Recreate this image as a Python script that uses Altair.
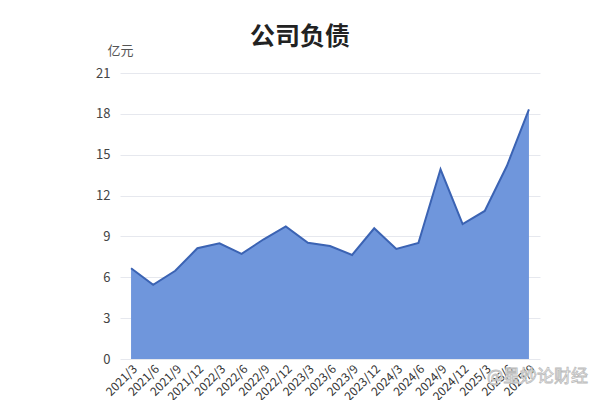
"""Company liabilities (公司负债) by quarter, drawn as a filled area chart with Altair."""

import altair as alt
import pandas as pd

FONT = "Noto Sans CJK SC"

QUARTERS = [
    "2021/3", "2021/6", "2021/9", "2021/12",
    "2022/3", "2022/6", "2022/9", "2022/12",
    "2023/3", "2023/6", "2023/9", "2023/12",
    "2024/3", "2024/6", "2024/9", "2024/12",
    "2025/3", "2025/6", "2025/9",
]
LIABILITIES = [
    6.66, 5.45, 6.48, 8.13,
    8.49, 7.72, 8.79, 9.74,
    8.54, 8.30, 7.64, 9.60,
    8.08, 8.52, 13.93, 9.91,
    10.87, 14.17, 18.33,
]
Y_TICKS = [0, 3, 6, 9, 12, 15, 18, 21]


def build_chart():
    df = pd.DataFrame({"quarter": QUARTERS, "value": LIABILITIES})

    base = alt.Chart(df).encode(
        x=alt.X(
            "quarter:O",
            sort=QUARTERS,
            title=None,
            axis=alt.Axis(
                labelAngle=-45,
                labelFontSize=12,
                labelColor="#333333",
                labelPadding=4,
                ticks=False,
                domain=False,
                grid=False,
            ),
        ),
        y=alt.Y(
            "value:Q",
            scale=alt.Scale(domain=[0, 21]),
            title="亿元",
            axis=alt.Axis(
                values=Y_TICKS,
                labelFontSize=13,
                labelColor="#444444",
                labelPadding=10,
                ticks=False,
                domain=False,
                gridColor="#e6e8ee",
                titleAngle=0,
                titleAlign="center",
                titleBaseline="middle",
                titleX=0,
                titleY=-23,
                titleFontSize=13,
                titleFontWeight="normal",
                titleColor="#555555",
            ),
        ),
    )

    area = base.mark_area(
        color="#6f96dc",
        opacity=1,
        line={"color": "#3b63b3", "strokeWidth": 2},
    )

    # faint watermark in the lower right corner, as in the source image
    watermark = alt.Chart(pd.DataFrame({"t": ["@星妙论财经"]})).mark_text(
        font=FONT,
        fontSize=17,
        color="#ffffff",
        stroke="#bbbbbb",
        strokeWidth=0.8,
        align="right",
        baseline="middle",
    ).encode(text="t:N", x=alt.value(468), y=alt.value(304))

    chart = (
        alt.layer(area, watermark)
        .properties(
            width=420,
            height=286,
            title=alt.TitleParams(
                "公司负债",
                fontSize=25,
                fontWeight="bold",
                color="#222222",
                font=FONT,
                anchor="middle",
                dx=-30,
                offset=-6,
            ),
            autosize=alt.AutoSizeParams(type="none"),
            padding={"left": 112, "top": 65, "right": 52, "bottom": 41},
        )
        .configure(font=FONT, background="#ffffff")
        .configure_view(stroke=None)
    )
    return chart


def main():
    chart = build_chart()
    chart.save("out.html", embed_options={"renderer": "svg", "actions": False})


if __name__ == "__main__":
    main()
